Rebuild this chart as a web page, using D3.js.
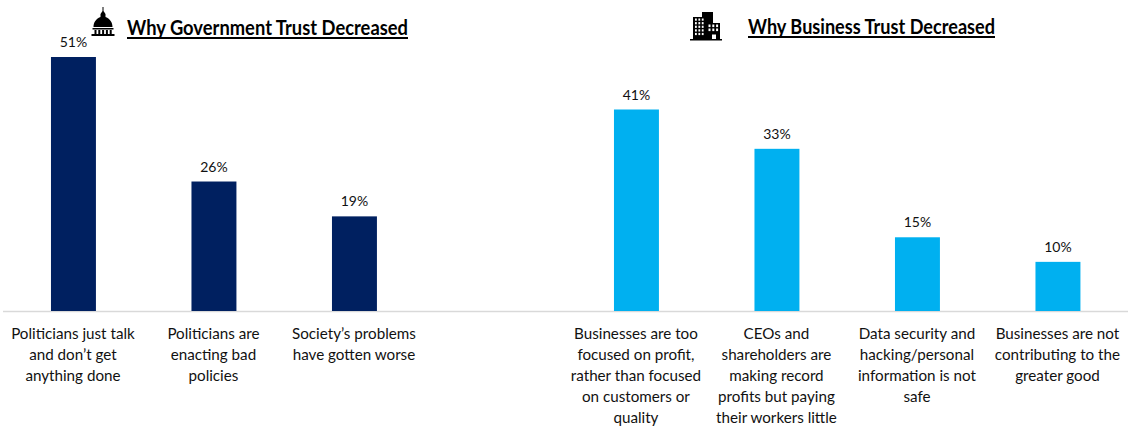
<!DOCTYPE html>
<html>
<head>
<meta charset="utf-8">
<script src="https://cdn.jsdelivr.net/npm/d3@7"></script>
<style>
  html, body { margin: 0; padding: 0; background: #fff; }
  svg { display: block; }
  text { font-family: Lato, "Open Sans", sans-serif; fill: #111; }
</style>
</head>
<body>
<svg id="chart" width="1128" height="428"></svg>
<script>
const govCategories = ["gov-talk", "gov-policies", "gov-society", "gov-blank"];
const govValues = [51, 26, 19];
const govLabels = [
  ["Politicians just talk", "and don’t get", "anything done"],
  ["Politicians are", "enacting bad", "policies"],
  ["Society’s problems", "have gotten worse"]
];
const bizCategories = ["biz-profit", "biz-ceo", "biz-data", "biz-good"];
const bizValues = [41, 33, 15, 10];
const bizLabels = [
  ["Businesses are too", "focused on profit,", "rather than focused", "on customers or", "quality"],
  ["CEOs and", "shareholders are", "making record", "profits but paying", "their workers little"],
  ["Data security and", "hacking/personal", "information is not", "safe"],
  ["Businesses are not", "contributing to the", "greater good"]
];

const svg = d3.select("#chart");
const baseY = 311;
const yGov = d3.scaleLinear().domain([0, 51]).range([baseY, 57]);
const yBiz = d3.scaleLinear().domain([0, 41]).range([baseY, 109.5]);

// Shared baseline under both groups of bars
svg.append("line").attr("x1", 3).attr("x2", 1128)
  .attr("y1", baseY + 0.5).attr("y2", baseY + 0.5)
  .attr("stroke", "#d9d9d9").attr("stroke-width", 1.4);

function panel(cats, values, labels, x0, x1, color, y) {
  const x = d3.scaleBand().domain(cats).range([x0, x1]).paddingInner(0.68).paddingOuter(0.34);
  const g = svg.append("g");
  const items = values.map((v, i) => ({ c: cats[i], v, l: labels[i] }));
  g.selectAll("rect").data(items).join("rect")
    .attr("x", d => x(d.c)).attr("width", x.bandwidth())
    .attr("y", d => y(d.v)).attr("height", d => baseY - y(d.v))
    .attr("fill", color);
  g.selectAll(".val").data(items).join("text").attr("class", "val")
    .attr("x", d => x(d.c) + x.bandwidth() / 2).attr("y", d => y(d.v) - 10)
    .attr("text-anchor", "middle").attr("font-size", 14).text(d => d.v + "%");
  g.selectAll(".cat").data(items).join("text").attr("class", "cat")
    .attr("text-anchor", "middle").attr("font-size", 15.2)
    .each(function (d) {
      d3.select(this).selectAll("tspan").data(d.l).join("tspan")
        .attr("x", x(d.c) + x.bandwidth() / 2 - 0.5)
        .attr("y", (t, i) => 339 + i * 21)
        .text(t => t);
    });
}
panel(govCategories, govValues, govLabels, 3.2, 565.2, "#002060", yGov);
panel(bizCategories, bizValues, bizLabels, 566.2, 1128.2, "#00b0f0", yBiz);

function title(text, x, yPos, w) {
  svg.append("text").attr("x", x).attr("y", yPos)
    .attr("font-size", 20).attr("font-weight", 700)
    .attr("textLength", w).attr("lengthAdjust", "spacingAndGlyphs")
    .style("fill", "#000").text(text);
  svg.append("line").attr("x1", x).attr("x2", x + w)
    .attr("y1", yPos + 3.5).attr("y2", yPos + 3.5)
    .attr("stroke", "#000").attr("stroke-width", 2);
}
title("Why Government Trust Decreased", 127, 34.5, 281);
title("Why Business Trust Decreased", 748, 33.5, 247);

// Capitol dome icon
const dome = svg.append("g").attr("fill", "#000");
dome.append("path").attr("d", "M102.5 7 L103.5 7 L103.5 11 L105.5 14 L105.5 17 C110.5 19 112.5 23 112.5 27 L93.5 27 C93.5 23 95.5 19 100.5 17 L100.5 14 L102.5 11 Z");
dome.append("rect").attr("x", 92.5).attr("y", 28).attr("width", 21).attr("height", 1.5);
dome.selectAll(".col").data(d3.range(5)).join("rect").attr("class", "col")
  .attr("x", i => 94.5 + i * 3.8).attr("y", 30).attr("width", 2).attr("height", 4);
dome.append("rect").attr("x", 91.5).attr("y", 34).attr("width", 23).attr("height", 2);

// Office block icon
const city = svg.append("g");
city.append("path").attr("d", "M693 39 V17 H702 V12 H713 V23 H720 V39 Z").attr("fill", "#000");
city.append("rect").attr("x", 690).attr("y", 39).attr("width", 32).attr("height", 1.5).attr("fill", "#000");
const tallWindows = d3.cross(d3.range(3), d3.range(5));
city.selectAll(".win").data(tallWindows).join("rect").attr("class", "win")
  .attr("x", d => 695 + d[0] * 3.4).attr("y", d => 18.5 + d[1] * 3.6).attr("width", 1.8).attr("height", 2.2).attr("fill", "#fff");
const lowWindows = d3.cross(d3.range(3), d3.range(2));
city.selectAll(".win2").data(lowWindows).join("rect").attr("class", "win2")
  .attr("x", d => 708.5 + d[0] * 3.8).attr("y", d => 24.5 + d[1] * 4).attr("width", 2).attr("height", 2.6).attr("fill", "#fff");
city.append("rect").attr("x", 712).attr("y", 34.5).attr("width", 4).attr("height", 4.5).attr("fill", "#fff");
</script>
</body>
</html>
